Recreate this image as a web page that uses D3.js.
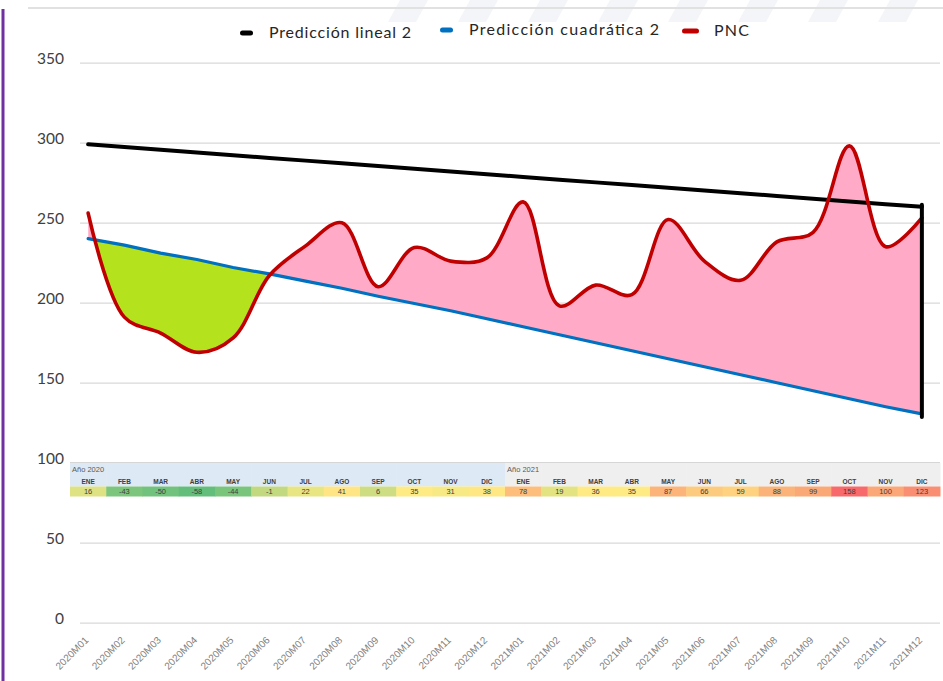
<!DOCTYPE html>
<html>
<head>
<meta charset="utf-8">
<script src="https://cdn.jsdelivr.net/npm/d3@7"></script>
<style>
  html, body { margin: 0; padding: 0; background: #fff; }
  svg { display: block; }
</style>
</head>
<body>
<div id="chart"></div>
<script>
// categories
const months = ["2020M01","2020M02","2020M03","2020M04","2020M05","2020M06","2020M07","2020M08","2020M09","2020M10","2020M11","2020M12",
                "2021M01","2021M02","2021M03","2021M04","2021M05","2021M06","2021M07","2021M08","2021M09","2021M10","2021M11","2021M12"];

// series
const lineal = [299, 297.3, 295.6, 293.9, 292.2, 290.5, 288.8, 287.1, 285.4, 283.7, 282.0, 280.3,
                278.6, 276.9, 275.2, 273.5, 271.8, 270.1, 268.4, 266.7, 265.0, 263.3, 261.6, 260.0];
const cuadratica = [240, 236, 231, 227, 222, 218, 213.5, 209, 204, 199.5, 195, 190,
                    185, 180, 175, 170, 165, 160, 155, 150, 145, 140, 135, 130.5];
const pnc = [256, 191, 181, 169, 178, 217, 235.5, 250, 210, 234.5, 226, 228,
             263, 198, 211, 205, 252, 226, 214, 238, 244, 298, 235, 253];

// overlaid table
const yearLabels = ["Año 2020", "Año 2021"];
const tableMonths = ["ENE","FEB","MAR","ABR","MAY","JUN","JUL","AGO","SEP","OCT","NOV","DIC"];
const diffs = [16, -43, -50, -58, -44, -1, 22, 41, 6, 35, 31, 38,
               78, 19, 36, 35, 87, 66, 59, 88, 99, 158, 100, 123];

const yTicks = [0, 50, 100, 150, 200, 250, 300, 350];

const legendItems = [
    { name: "Predicción lineal 2", color: "#000000" },
    { name: "Predicción cuadrática 2", color: "#0070c0" },
    { name: "PNC", color: "#c00000" }
];

const W = 943, H = 681;

const svg = d3.select("#chart").append("svg")
    .attr("width", W)
    .attr("height", H);

// background decoration: faint stripes at top and frame lines
const stripes = svg.append("g").attr("fill", "#f3f5f8");
d3.range(8).forEach(function(i) {
    const x0 = 400 + i * 70;
    stripes.append("path")
        .attr("d", `M${x0},0 L${x0 + 28},0 L${x0 + 16},22 L${x0 - 12},22 Z`);
});
svg.append("line")
    .attr("x1", 28).attr("x2", W)
    .attr("y1", 8).attr("y2", 8)
    .attr("stroke", "#e1e1e1").attr("stroke-width", 2);
svg.append("line")
    .attr("x1", 3).attr("x2", 3)
    .attr("y1", 9).attr("y2", H)
    .attr("stroke", "#7030a0").attr("stroke-width", 3);

const x = d3.scaleBand().domain(months).range([70, 940]);
const cx = function(m) { return x(m) + x.bandwidth() / 2; };
const y = d3.scaleLinear().domain([0, 350]).range([622.7, 62.7]);

// y axis with gridlines
const yAxis = svg.append("g")
    .attr("transform", "translate(80,0)")
    .call(d3.axisLeft(y).tickValues(yTicks).tickSize(-860).tickPadding(16));
yAxis.select(".domain").remove();
yAxis.selectAll(".tick line").attr("stroke", "#d9d9d9").attr("stroke-width", 1.3);
yAxis.selectAll(".tick text")
    .attr("dy", "0.05em")
    .style("font-family", "Lato, 'Open Sans', sans-serif")
    .style("font-size", "15.5px")
    .attr("fill", "#404040");

// x axis labels
const xAxis = svg.append("g")
    .attr("transform", `translate(0,${y(0)})`)
    .call(d3.axisBottom(x).tickSize(0));
xAxis.select(".domain").remove();
xAxis.selectAll(".tick text")
    .attr("x", 0).attr("y", 0).attr("dy", 0)
    .attr("text-anchor", "end")
    .attr("transform", "translate(1,18) rotate(-45)")
    .style("font-family", "'Liberation Sans', Arial, sans-serif")
    .style("font-size", "10px")
    .attr("fill", "#7f7f7f");

// fills between PNC and quadratic prediction
const pncPts = months.map(function(m, i) { return [cx(m), y(pnc[i])]; });
const quadPts = months.map(function(m, i) { return [cx(m), y(cuadratica[i])]; });
const smooth = d3.line().curve(d3.curveCatmullRom.alpha(0.5));
const straight = d3.line();

const xFirst = quadPts[0][0], xLast = quadPts[quadPts.length - 1][0];
const defs = svg.append("defs");
defs.append("clipPath").attr("id", "clip-above")
    .append("path")
    .attr("d", straight(quadPts) + `L${xLast},0L${xFirst},0Z`);
defs.append("clipPath").attr("id", "clip-below")
    .append("path")
    .attr("d", straight(quadPts) + `L${xLast},${H}L${xFirst},${H}Z`);

const between = smooth(pncPts) + straight(quadPts.slice().reverse()).replace(/^M/, "L") + "Z";
svg.append("path")
    .attr("d", between)
    .attr("fill", "#ffabc8")
    .attr("clip-path", "url(#clip-above)");
svg.append("path")
    .attr("d", between)
    .attr("fill", "#b4e31e")
    .attr("clip-path", "url(#clip-below)");

// lines
svg.append("path")
    .attr("d", straight(months.map(function(m, i) { return [cx(m), y(lineal[i])]; })))
    .attr("fill", "none")
    .attr("stroke", "#000")
    .attr("stroke-width", 4)
    .attr("stroke-linecap", "round");
svg.append("path")
    .attr("d", straight(quadPts))
    .attr("fill", "none")
    .attr("stroke", "#0070c0")
    .attr("stroke-width", 3.2)
    .attr("stroke-linecap", "round");
svg.append("path")
    .attr("d", smooth(pncPts))
    .attr("fill", "none")
    .attr("stroke", "#c00000")
    .attr("stroke-width", 3.6)
    .attr("stroke-linecap", "round");

// closing vertical marker at the last month
const last = months.length - 1;
svg.append("line")
    .attr("x1", xLast).attr("x2", xLast)
    .attr("y1", y(lineal[last]) - 2).attr("y2", y(cuadratica[last]) + 3)
    .attr("stroke", "#000")
    .attr("stroke-width", 4)
    .attr("stroke-linecap", "round");

// table over the chart
const table = svg.append("g").attr("class", "table");
const headTop = 463, headBottom = 486.5, rowBottom = 496.5;
const color = d3.scaleLinear()
    .domain([d3.min(diffs), d3.median(diffs), d3.max(diffs)])
    .range(["#63be7b", "#ffeb84", "#f8696b"]);

table.append("line")
    .attr("x1", 70).attr("x2", 940)
    .attr("y1", headTop - 0.5).attr("y2", headTop - 0.5)
    .attr("stroke", "#d6d6d6");

const cols = table.selectAll("g.col")
    .data(months).enter()
    .append("g").attr("class", "col")
    .attr("transform", function(d) { return `translate(${x(d)},0)`; });

cols.append("rect")
    .attr("y", headTop)
    .attr("width", x.bandwidth() + 0.5)
    .attr("height", headBottom - headTop)
    .attr("fill", function(d, i) { return i < 12 ? "#dde9f5" : "#efefef"; });
cols.append("rect")
    .attr("y", headBottom)
    .attr("width", x.bandwidth() + 0.5)
    .attr("height", rowBottom - headBottom)
    .attr("fill", function(d, i) { return color(diffs[i]); });
cols.append("text")
    .attr("x", x.bandwidth() / 2)
    .attr("y", 483.5)
    .attr("text-anchor", "middle")
    .style("font-family", "'Liberation Sans', Arial, sans-serif")
    .style("font-size", "6.5px")
    .style("font-weight", "bold")
    .attr("fill", "#404040")
    .text(function(d, i) { return tableMonths[i % 12]; });
cols.append("text")
    .attr("x", x.bandwidth() / 2)
    .attr("y", 494.3)
    .attr("text-anchor", "middle")
    .style("font-family", "'Liberation Sans', Arial, sans-serif")
    .style("font-size", "7.5px")
    .attr("fill", "#404040")
    .text(function(d, i) { return diffs[i]; });

table.selectAll("text.year")
    .data(yearLabels).enter()
    .append("text").attr("class", "year")
    .attr("x", function(d, i) { return x(months[i * 12]) + 2; })
    .attr("y", 472)
    .style("font-family", "'Liberation Sans', Arial, sans-serif")
    .style("font-size", "7.5px")
    .attr("fill", "#595959")
    .text(function(d) { return d; });

// legend
const legendX = [240, 440, 682];
const legendY = [33, 30, 31];
const legendW = [142, 190, 35];
const legend = svg.append("g").attr("class", "legend");
const li = legend.selectAll("g")
    .data(legendItems).enter()
    .append("g")
    .attr("transform", function(d, i) { return `translate(${legendX[i]},${legendY[i]})`; });
li.append("rect")
    .attr("x", 0).attr("y", -2.5)
    .attr("width", function(d, i) { return i === 2 ? 17 : 13; })
    .attr("height", 5)
    .attr("rx", 2.5)
    .attr("fill", function(d) { return d.color; });
li.append("text")
    .attr("x", function(d, i) { return i === 2 ? 32 : 29; })
    .attr("y", 5)
    .attr("textLength", function(d, i) { return legendW[i]; })
    .style("font-family", "Lato, 'Open Sans', sans-serif")
    .style("font-size", "16px")
    .attr("fill", "#262626")
    .text(function(d) { return d.name; });
</script>
</body>
</html>
